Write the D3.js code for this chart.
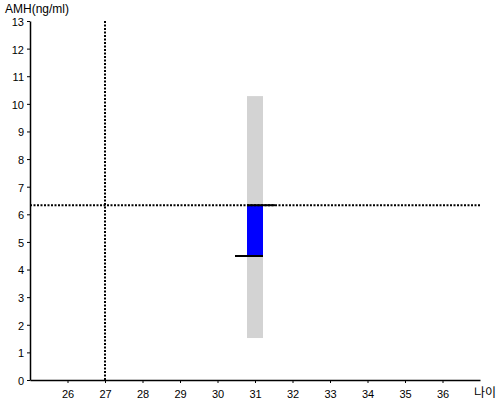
<!DOCTYPE html>
<html>
<head>
<meta charset="utf-8">
<script src="https://cdn.jsdelivr.net/npm/d3@7"></script>
<style>
body { margin: 0; background: #fff; }
text { font-family: "Liberation Sans", Arial, sans-serif; }
</style>
</head>
<body>
<svg width="500" height="400"></svg>
<script>
//data
var xTicks = [26, 27, 28, 29, 30, 31, 32, 33, 34, 35, 36];
var yTicks = [0, 1, 2, 3, 4, 5, 6, 7, 8, 9, 10, 11, 12, 13];
var age = [31];
var rangeLow = [1.52];
var rangeHigh = [10.28];
var amhValue = [6.33];
var expected = [4.49];
var refAge = 27;
var refAmh = 6.33;

var svg = d3.select("svg"),
    margin = {left: 30, right: 20, top: 21, bottom: 20},
    width = 500 - margin.left - margin.right,
    height = 400 - margin.top - margin.bottom;

var x = d3.scaleLinear().domain([25, 37]).range([margin.left, margin.left + width]);
var y = d3.scaleLinear().domain([0, 13]).range([margin.top + height, margin.top]);

var bw = 16;

//gray range bar
svg.selectAll(".range")
    .data(age)
    .enter()
    .append("rect")
    .attr("x", function (d) { return x(d) - bw / 2; })
    .attr("width", bw)
    .attr("y", function (d, i) { return y(rangeHigh[i]); })
    .attr("height", function (d, i) { return y(rangeLow[i]) - y(rangeHigh[i]); })
    .attr("fill", "#d3d3d3");

//blue bar
svg.selectAll(".val")
    .data(age)
    .enter()
    .append("rect")
    .attr("x", function (d) { return x(d) - bw / 2; })
    .attr("width", bw)
    .attr("y", function (d, i) { return y(amhValue[i]); })
    .attr("height", function (d, i) { return y(expected[i]) - y(amhValue[i]); })
    .attr("fill", "#0000ff");

//dotted reference lines
svg.append("line")
    .attr("x1", x(refAge)).attr("x2", x(refAge))
    .attr("y1", y(13)).attr("y2", y(0))
    .attr("stroke", "#000").attr("stroke-width", 2)
    .attr("stroke-dasharray", "2,1.5");

svg.append("line")
    .attr("x1", x(25)).attr("x2", x(37))
    .attr("y1", y(refAmh)).attr("y2", y(refAmh))
    .attr("stroke", "#000").attr("stroke-width", 2)
    .attr("stroke-dasharray", "2,1.5");

//marker lines
svg.selectAll(".top")
    .data(age)
    .enter()
    .append("line")
    .attr("x1", function (d) { return x(d) - bw / 2; })
    .attr("x2", function (d) { return x(d) + 20; })
    .attr("y1", function (d, i) { return y(amhValue[i]); })
    .attr("y2", function (d, i) { return y(amhValue[i]); })
    .attr("stroke", "#000").attr("stroke-width", 2);

svg.selectAll(".bot")
    .data(age)
    .enter()
    .append("line")
    .attr("x1", function (d) { return x(d) - 20; })
    .attr("x2", function (d) { return x(d) + bw / 2; })
    .attr("y1", function (d, i) { return y(expected[i]); })
    .attr("y2", function (d, i) { return y(expected[i]); })
    .attr("stroke", "#000").attr("stroke-width", 2);

//axes
var xAxis = svg.append("g")
    .attr("transform", "translate(0," + y(0) + ")")
    .call(d3.axisBottom(x).tickValues(xTicks).tickSize(3).tickSizeOuter(0));

var yAxis = svg.append("g")
    .attr("transform", "translate(" + x(25) + ",0)")
    .call(d3.axisLeft(y).tickValues(yTicks).tickSize(3).tickSizeOuter(0));

[xAxis, yAxis].forEach(function (g) {
    g.select(".domain").attr("stroke", "#000").attr("stroke-width", 1.5);
    g.selectAll("text").attr("font-size", 11).attr("fill", "#000")
        .style("font-family", "'Liberation Sans', Arial, sans-serif");
});
xAxis.selectAll("text").attr("dy", "1.1em");
yAxis.selectAll("text").attr("dy", "0.4em");

//axis titles
svg.append("text")
    .attr("x", 5).attr("y", 13)
    .attr("font-size", 12)
    .text("AMH(ng/ml)");

svg.append("text")
    .attr("x", 474).attr("y", 397)
    .attr("font-size", 12)
    .style("font-family", "'Noto Sans CJK KR', sans-serif")
    .text("나이");
</script>
</body>
</html>
